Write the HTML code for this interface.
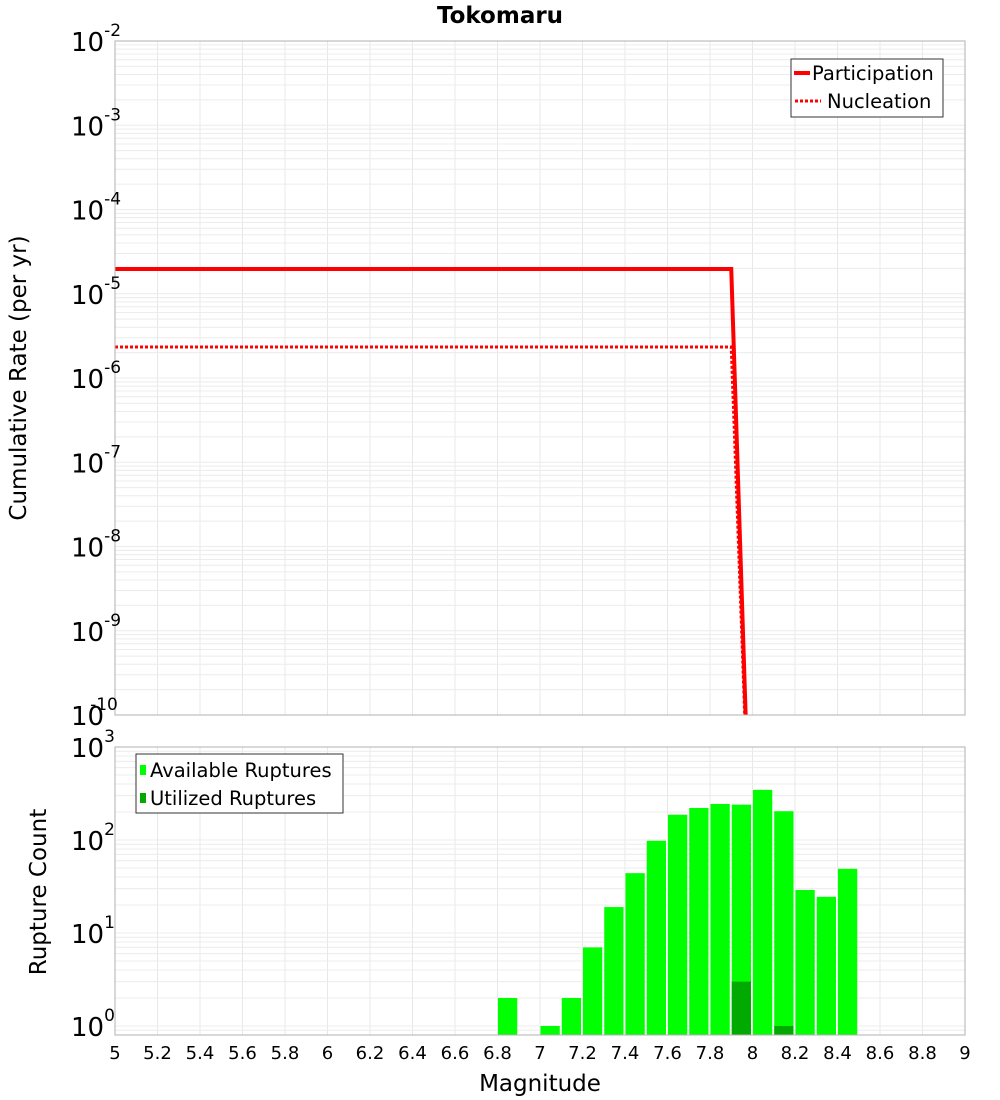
<!DOCTYPE html>
<html><head><meta charset="utf-8"><style>
body{margin:0;background:#fff;}
svg{display:block;font-family:"DejaVu Sans","Liberation Sans",sans-serif;}
</style></head><body>
<svg id="c" width="1000" height="1100" xmlns="http://www.w3.org/2000/svg">
<text x="500" y="23" text-anchor="middle" font-size="23" font-weight="bold">Tokomaru</text>
<text transform="translate(26,378) rotate(-90)" text-anchor="middle" font-size="23">Cumulative Rate (per yr)</text>
<text transform="translate(46,892) rotate(-90)" text-anchor="middle" font-size="23">Rupture Count</text>
<text x="540" y="1091" text-anchor="middle" font-size="23">Magnitude</text>
</svg>
<script>
const partMag=[5,7.9,8.0];
const partRate=[1.97e-5,1.97e-5,3e-13];
const nuclMag=[5,7.9,8.0];
const nuclRate=[2.33e-6,2.33e-6,3e-13];
const binMag=[6.8,7.0,7.1,7.2,7.3,7.4,7.5,7.6,7.7,7.8,7.9,8.0,8.1,8.2,8.3,8.4];
const availCount=[2,1,2,7,19,44,98,187,221,244,240,346,204,29,24.5,49];
const utilCount=[0,0,0,0,0,0,0,0,0,0,3,0,1,0,0,0];
const xTicks=[5,5.2,5.4,5.6,5.8,6,6.2,6.4,6.6,6.8,7,7.2,7.4,7.6,7.8,8,8.2,8.4,8.6,8.8,9];
const topExp=[-2,-3,-4,-5,-6,-7,-8,-9,-10];
const botExp=[0,1,2,3];

const NS="http://www.w3.org/2000/svg";
const svg=document.getElementById('c');
function el(t,a,p){const e=document.createElementNS(NS,t);for(const k in a)e.setAttribute(k,a[k]);(p||svg).appendChild(e);return e;}
const X0=115,X1=965;
const x=m=>X0+(m-5)/4*(X1-X0);
const T0=41,T1=715; const yT=v=>T0+(-2-Math.log10(v))*(T1-T0)/8;
const B0=747,B1=1035; const yB=v=>1026-Math.log10(v)*93;

const gTop=el('g',{});
const gBot=el('g',{});
el('rect',{x:X0,y:T0,width:X1-X0,height:T1-T0,fill:'#fff'},gTop);
el('rect',{x:X0,y:B0,width:X1-X0,height:B1-B0,fill:'#fff'},gBot);
for(const t of xTicks){
 el('line',{x1:x(t),x2:x(t),y1:T0,y2:T1,stroke:'#e8e8e8'},gTop);
 el('line',{x1:x(t),x2:x(t),y1:B0,y2:B1,stroke:'#e8e8e8'},gBot);
}
for(let e=-10;e<-2;e++)for(let k=1;k<10;k++){const yy=yT(k*Math.pow(10,e));el('line',{x1:X0,x2:X1,y1:yy,y2:yy,stroke:'#ececec'},gTop);}
for(let e=-1;e<3;e++)for(let k=1;k<10;k++){const yy=yB(k*Math.pow(10,e));if(yy>B0&&yy<B1)el('line',{x1:X0,x2:X1,y1:yy,y2:yy,stroke:'#ececec'},gBot);}
function path(ms,vs){return ms.map((m,i)=>(i?'L':'M')+x(m)+','+yT(vs[i])).join(' ');}
const cp=el('clipPath',{id:'ct'});
el('rect',{x:X0,y:T0,width:X1-X0,height:T1-T0},cp);
const pl=el('path',{d:path(partMag,partRate),stroke:'#f00','stroke-width':4,fill:'none','clip-path':'url(#ct)'},gTop);

const nl=el('path',{d:path(nuclMag,nuclRate),stroke:'#f00','stroke-width':3,'stroke-dasharray':'3,2',fill:'none','clip-path':'url(#ct)'},gTop);

binMag.forEach((m,i)=>{
 const r=el('rect',{x:x(m)+0.5,y:yB(availCount[i]),width:x(m+0.1)-x(m)-2,height:B1-yB(availCount[i]),fill:'#00ff00'},gBot);
 
 if(utilCount[i]>0){const u=el('rect',{x:x(m)+0.5,y:yB(utilCount[i]),width:x(m+0.1)-x(m)-2,height:B1-yB(utilCount[i]),fill:'#00aa00'},gBot);
 }
});
el('rect',{x:X0,y:T0,width:X1-X0,height:T1-T0,fill:'none',stroke:'#b0b0b0'},gTop);
el('rect',{x:X0,y:B0,width:X1-X0,height:B1-B0,fill:'none',stroke:'#b0b0b0'},gBot);
for(const t of xTicks){const tx=el('text',{x:x(t),y:1059,'text-anchor':'middle','font-size':18});tx.textContent=String(t);
 }
function ylab(yy,e){const tx=el('text',{x:71,y:yy+10,'text-anchor':'start','font-size':26});
 
 const a=document.createElementNS(NS,'tspan');a.textContent='10';tx.appendChild(a);
 const b=document.createElementNS(NS,'tspan');b.setAttribute('dy','-15');b.setAttribute('font-size','17');b.textContent=String(e);tx.appendChild(b);
 if(e<=-10){a.setAttribute('dx','0');b.setAttribute('dx','-14');}}
topExp.forEach(e=>ylab(yT(Math.pow(10,e)),e));
botExp.forEach(e=>ylab(yB(Math.pow(10,e)),e));
const lt=el('g',{});
el('rect',{x:791,y:59,width:152,height:58,fill:'#fff',stroke:'#333'},lt);
el('line',{x1:794,x2:810,y1:73,y2:73,stroke:'#f00','stroke-width':4},lt);
el('line',{x1:795,x2:821,y1:101,y2:101,stroke:'#f00','stroke-width':3,'stroke-dasharray':'3,2'},lt);
let t=el('text',{x:812,y:80,'font-size':19.5},lt);t.textContent='Participation';
t=el('text',{x:827,y:108,'font-size':19.5},lt);t.textContent='Nucleation';
const lb=el('g',{});
el('rect',{x:136,y:754,width:207,height:59,fill:'#fff',stroke:'#333'},lb);
el('rect',{x:140,y:765,width:6,height:10,fill:'#00ff00'},lb);
el('rect',{x:140,y:793,width:6,height:10,fill:'#00aa00'},lb);
t=el('text',{x:150,y:777,'font-size':19.5},lb);t.textContent='Available Ruptures';
t=el('text',{x:150,y:805,'font-size':19.5},lb);t.textContent='Utilized Ruptures';
</script>
</body></html>
